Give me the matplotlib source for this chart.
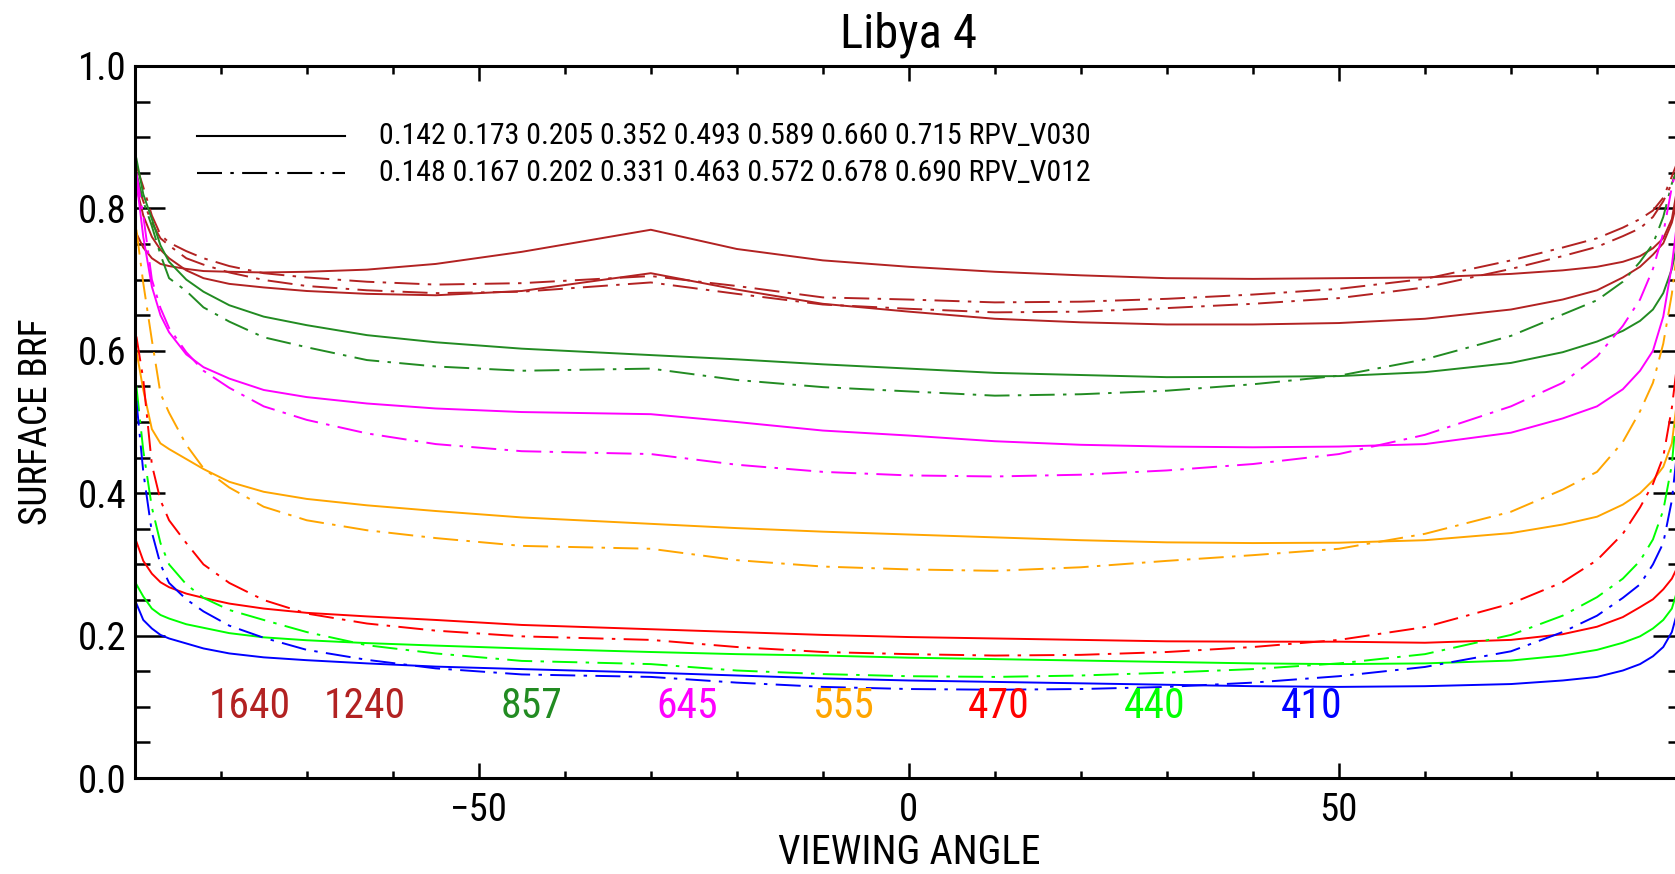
import numpy as np
import matplotlib
matplotlib.use("Agg")
import matplotlib.pyplot as plt
from matplotlib import font_manager as fm
from matplotlib.ticker import MultipleLocator

# IDL-like narrow font: take the first condensed face that is installed
prefs = ['liberationsansnarrow', 'arialnarrow', 'robotocondensed', 'dejavusanscondensed',
         'notosans-condensed', 'opensans-condensed', 'opensans_condensed', 'condensed', 'narrow']
narrow = None
for key in prefs:
    for f in fm.fontManager.ttflist:
        fname = f.fname.lower().replace(' ', '').replace('_', '')
        if key.replace('_', '') in fname and f.style == 'normal' and f.weight in (400, 'normal', 'regular') \
                and 'bold' not in fname and 'light' not in fname and 'italic' not in fname:
            narrow = f
            break
    if narrow is not None:
        break

if narrow is not None:
    plt.rcParams['font.family'] = [narrow.name, 'DejaVu Sans']
    plt.rcParams['font.stretch'] = narrow.stretch
else:
    plt.rcParams['font.family'] = ['Liberation Sans', 'DejaVu Sans']
plt.rcParams['lines.scale_dashes'] = False

angles = [-89.8, -89, -88, -87, -86, -84, -82, -79, -75, -70, -63, -55, -45, -30,
          -20, -10, 0, 10, 20, 30, 40, 50, 60, 70, 76, 80, 83, 85, 86.5, 87.7, 88.7, 89.5]

bands = ['1640', '1240', '857', '645', '555', '470', '440', '410']
band_colors = ['firebrick', 'firebrick', 'forestgreen', '#FF00FF', '#FFA500',
               '#FF0000', '#00FF00', '#0000FF']

# RPV_V030 (solid)
v030_1640 = [0.765, 0.745, 0.730, 0.722, 0.719, 0.715, 0.712, 0.711, 0.710, 0.711, 0.714, 0.722, 0.739, 0.770,
             0.743, 0.727, 0.718, 0.711, 0.706, 0.702, 0.701, 0.702, 0.703, 0.708, 0.713, 0.718, 0.725, 0.733,
             0.744, 0.758, 0.785, 0.84]
v030_1240 = [0.83, 0.79, 0.76, 0.742, 0.73, 0.713, 0.702, 0.694, 0.689, 0.684, 0.680, 0.678, 0.684, 0.709,
             0.686, 0.666, 0.655, 0.645, 0.640, 0.637, 0.637, 0.639, 0.645, 0.658, 0.672, 0.685, 0.703, 0.718,
             0.735, 0.751, 0.78, 0.82]
v030_857 = [0.87, 0.82, 0.785, 0.748, 0.725, 0.70, 0.683, 0.664, 0.648, 0.636, 0.622, 0.612, 0.603, 0.594,
            0.588, 0.581, 0.575, 0.569, 0.566, 0.563, 0.5635, 0.5645, 0.570, 0.583, 0.598, 0.613, 0.628, 0.642,
            0.658, 0.681, 0.715, 0.76]
v030_645 = [0.84, 0.76, 0.69, 0.65, 0.626, 0.595, 0.577, 0.561, 0.545, 0.535, 0.526, 0.519, 0.514, 0.511,
            0.500, 0.488, 0.481, 0.473, 0.468, 0.4655, 0.4645, 0.4655, 0.469, 0.485, 0.505, 0.522, 0.546, 0.572,
            0.60, 0.648, 0.72, 0.80]
v030_555 = [0.60, 0.545, 0.49, 0.47, 0.462, 0.448, 0.434, 0.416, 0.402, 0.392, 0.383, 0.375, 0.366, 0.357,
            0.351, 0.346, 0.342, 0.338, 0.334, 0.331, 0.330, 0.3305, 0.334, 0.344, 0.356, 0.367, 0.384, 0.40,
            0.418, 0.437, 0.47, 0.55]
v030_470 = [0.332, 0.305, 0.287, 0.275, 0.268, 0.259, 0.253, 0.245, 0.238, 0.232, 0.227, 0.222, 0.215, 0.209,
            0.205, 0.201, 0.198, 0.196, 0.194, 0.192, 0.1915, 0.1915, 0.190, 0.194, 0.202, 0.2125, 0.226, 0.240,
            0.251, 0.265, 0.28, 0.30]
v030_440 = [0.272, 0.255, 0.238, 0.229, 0.224, 0.216, 0.211, 0.2035, 0.1976, 0.1935, 0.1895, 0.186, 0.182, 0.177,
            0.174, 0.172, 0.169, 0.167, 0.165, 0.163, 0.161, 0.160, 0.161, 0.165, 0.172, 0.180, 0.19, 0.199,
            0.21, 0.222, 0.238, 0.27]
v030_410 = [0.245, 0.222, 0.210, 0.201, 0.196, 0.189, 0.182, 0.175, 0.1695, 0.1655, 0.161, 0.1565, 0.153, 0.148,
            0.144, 0.140, 0.137, 0.135, 0.133, 0.131, 0.129, 0.128, 0.129, 0.132, 0.137, 0.142, 0.151, 0.160,
            0.171, 0.184, 0.205, 0.24]

# RPV_V012 (dash-dot)
v012_1640 = [0.86, 0.83, 0.79, 0.763, 0.752, 0.740, 0.730, 0.719, 0.709, 0.703, 0.697, 0.693, 0.695, 0.705,
             0.691, 0.675, 0.672, 0.668, 0.669, 0.673, 0.679, 0.687, 0.701, 0.727, 0.745, 0.758, 0.773, 0.785,
             0.797, 0.815, 0.845, 0.87]
v012_1240 = [0.84, 0.81, 0.78, 0.758, 0.748, 0.73, 0.721, 0.710, 0.6995, 0.691, 0.685, 0.681, 0.683, 0.696,
             0.680, 0.665, 0.659, 0.654, 0.655, 0.660, 0.666, 0.674, 0.689, 0.715, 0.733, 0.746, 0.761, 0.772,
             0.788, 0.81, 0.835, 0.86]
v012_857 = [0.85, 0.81, 0.775, 0.735, 0.702, 0.684, 0.661, 0.641, 0.619, 0.605, 0.587, 0.578, 0.572, 0.575,
            0.559, 0.549, 0.543, 0.537, 0.539, 0.544, 0.553, 0.565, 0.588, 0.621, 0.651, 0.671, 0.697, 0.725,
            0.750, 0.788, 0.835, 0.86]
v012_645 = [0.85, 0.79, 0.70, 0.66, 0.632, 0.598, 0.572, 0.548, 0.522, 0.503, 0.484, 0.469, 0.459, 0.455,
            0.440, 0.430, 0.425, 0.4235, 0.426, 0.432, 0.441, 0.455, 0.482, 0.522, 0.555, 0.592, 0.635, 0.672,
            0.715, 0.765, 0.83, 0.87]
v012_555 = [0.77, 0.695, 0.615, 0.54, 0.513, 0.468, 0.435, 0.408, 0.381, 0.362, 0.348, 0.337, 0.326, 0.322,
            0.306, 0.297, 0.293, 0.291, 0.296, 0.305, 0.313, 0.322, 0.343, 0.374, 0.405, 0.43, 0.472, 0.515,
            0.555, 0.61, 0.68, 0.76]
v012_470 = [0.62, 0.56, 0.44, 0.39, 0.362, 0.33, 0.30, 0.274, 0.25, 0.231, 0.217, 0.207, 0.199, 0.194,
            0.184, 0.177, 0.174, 0.172, 0.173, 0.177, 0.184, 0.194, 0.212, 0.245, 0.275, 0.306, 0.343, 0.38,
            0.413, 0.451, 0.52, 0.60]
v012_440 = [0.55, 0.46, 0.38, 0.33, 0.30, 0.272, 0.253, 0.236, 0.222, 0.205, 0.1865, 0.175, 0.1645, 0.160,
            0.151, 0.146, 0.143, 0.142, 0.144, 0.148, 0.153, 0.161, 0.174, 0.201, 0.228, 0.254, 0.28, 0.305,
            0.335, 0.376, 0.44, 0.55]
v012_410 = [0.53, 0.43, 0.345, 0.30, 0.274, 0.251, 0.234, 0.214, 0.197, 0.18, 0.166, 0.154, 0.1455, 0.142,
            0.134, 0.128, 0.125, 0.124, 0.125, 0.128, 0.134, 0.143, 0.156, 0.178, 0.205, 0.228, 0.253, 0.272,
            0.30, 0.33, 0.39, 0.48]

v030 = [v030_1640, v030_1240, v030_857, v030_645, v030_555, v030_470, v030_440, v030_410]
v012 = [v012_1640, v012_1240, v012_857, v012_645, v012_555, v012_470, v012_440, v012_410]

# rho0 per band, 410 ... 1640 (as printed in the legend)
rho_v030 = [0.142, 0.173, 0.205, 0.352, 0.493, 0.589, 0.660, 0.715]
rho_v012 = [0.148, 0.167, 0.202, 0.331, 0.463, 0.572, 0.678, 0.690]

# where the band names sit (viewing angle, BRF)
label_x = [-76.6, -63.2, -43.9, -25.8, -7.7, 10.5, 28.6, 46.8]
label_y = 0.101

dashdot = (0, (18, 6, 2.5, 6))

fig = plt.figure(figsize=(16.75, 8.74), dpi=100)
# the plot box runs a few pixels past the right edge of the image
ax = fig.add_axes([0.0804, 0.1098, 0.9244, 0.8147])

for i in range(len(bands)):
    ax.plot(angles, v030[i], color=band_colors[i], lw=1.4)
    ax.plot(angles, v012[i], color=band_colors[i], lw=1.4, linestyle=dashdot)

for i in range(len(bands)):
    ax.text(label_x[i], label_y, bands[i], color=band_colors[i], fontsize=30,
            ha='center', va='center')

# legend drawn by hand, IDL style
ax.plot([0.040, 0.136], [0.902, 0.902], color='black', lw=1.5, transform=ax.transAxes)
ax.plot([0.040, 0.136], [0.850, 0.850], color='black', lw=1.5, linestyle=dashdot,
        transform=ax.transAxes)
txt030 = ' '.join('%.3f' % r for r in rho_v030) + ' RPV_V030'
txt012 = ' '.join('%.3f' % r for r in rho_v012) + ' RPV_V012'
ax.text(0.158, 0.902, txt030, fontsize=21.5, va='center', ha='left', transform=ax.transAxes)
ax.text(0.158, 0.850, txt012, fontsize=21.5, va='center', ha='left', transform=ax.transAxes)

ax.set_xlim(-90, 90)
ax.set_ylim(0.0, 1.0)
ax.xaxis.set_major_locator(MultipleLocator(50))
ax.xaxis.set_minor_locator(MultipleLocator(10))
ax.yaxis.set_major_locator(MultipleLocator(0.2))
ax.yaxis.set_minor_locator(MultipleLocator(0.05))
ax.yaxis.set_major_formatter(plt.FormatStrFormatter('%.1f'))

ax.tick_params(axis='both', which='both', direction='in', top=True, right=True,
               width=1.8, colors='black')
ax.tick_params(axis='x', which='major', length=10.8, labelsize=28, pad=10)
ax.tick_params(axis='x', which='minor', length=5.4)
ax.tick_params(axis='y', which='major', length=21.6, labelsize=28, pad=6)
ax.tick_params(axis='y', which='minor', length=10.8)
for s in ax.spines.values():
    s.set_linewidth(2.2)

ax.set_xlabel('VIEWING ANGLE', fontsize=29, labelpad=3)
ax.set_ylabel('SURFACE BRF', fontsize=27, labelpad=16)
ax.set_title('Libya 4', fontsize=35, pad=13)

fig.savefig('out.png', dpi=100)
